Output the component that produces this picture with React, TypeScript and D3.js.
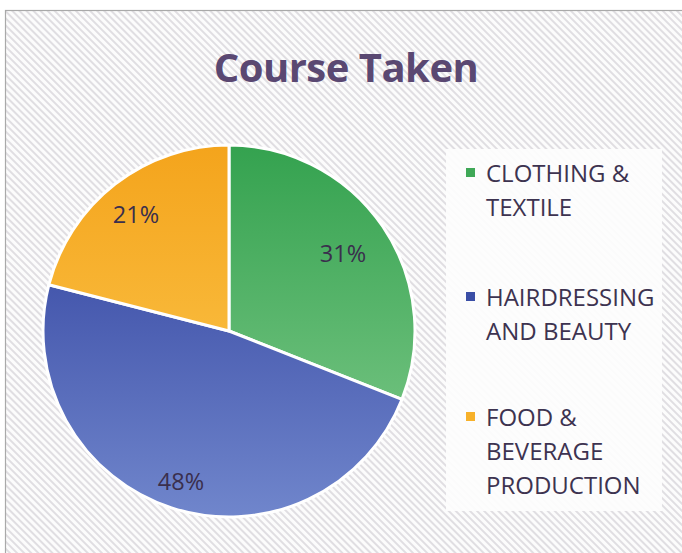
import React from "react";
import * as d3 from "d3";

const categories = ["CLOTHING & TEXTILE", "HAIRDRESSING AND BEAUTY", "FOOD & BEVERAGE PRODUCTION"];
const legendLines = [["CLOTHING &", "TEXTILE"], ["HAIRDRESSING", "AND BEAUTY"], ["FOOD &", "BEVERAGE", "PRODUCTION"]];
const values = [31, 48, 21];
const labels = ["31%", "48%", "21%"];
const colorsTop = ["#34a24f", "#2b3b9a", "#f4a41c"];
const colorsBottom = ["#84cc8e", "#7086cc", "#fdcc55"];
const legendColors = ["#3fa857", "#3a4ea6", "#f7b12a"];

export default function App() {
  const W = 682, H = 553;
  const cx = 229, cy = 331, r = 186;
  const pie = d3.pie<number>().sort(null).value((d) => d);
  const arcs = pie(values);
  const arc = d3.arc<d3.PieArcDatum<number>>().innerRadius(0).outerRadius(r);
  const labelPos = [
    [343, 253],
    [181, 481],
    [136, 214],
  ];
  const legendY = [172, 296, 416];
  const lineH = 34;
  const font = "'Open Sans', Lato, sans-serif";
  return (
    <svg width={W} height={H} style={{ position: "absolute", left: 0, top: 0 }}>
      <defs>
        <pattern id="hatch" width="5" height="5" patternUnits="userSpaceOnUse" patternTransform="rotate(-45)">
          <rect width="5" height="5" fill="#fcfcfc" />
          <rect width="2" height="5" fill="#e0dee2" />
        </pattern>
        {values.map((_, i) => (
          <linearGradient key={i} id={`g${i}`} gradientUnits="userSpaceOnUse" x1={0} y1={-r} x2={0} y2={r}>
            <stop offset="0" stopColor={colorsTop[i]} />
            <stop offset="1" stopColor={colorsBottom[i]} />
          </linearGradient>
        ))}
      </defs>
      <rect x={0} y={0} width={W} height={H} fill="#ffffff" />
      <rect x={5.5} y={10.5} width={W} height={H} fill="url(#hatch)" stroke="#a9a9a9" strokeWidth={1.2} />
      <text x={346} y={82} textAnchor="middle" fontFamily={font} fontWeight="bold" fontSize={40} fill="#5a4872" letterSpacing={-0.5}>
        Course Taken
      </text>
      <g transform={`translate(${cx},${cy})`}>
        {arcs.map((a, i) => (
          <path key={i} d={arc(a) || ""} fill={`url(#g${i})`} stroke="#ffffff" strokeWidth={3} strokeLinejoin="round" />
        ))}
      </g>
      {labels.map((l, i) => (
        <text key={i} x={labelPos[i][0]} y={labelPos[i][1]} textAnchor="middle" dominantBaseline="central" fontFamily={font} fontSize={23.5} fill="#3a2f4d">
          {l}
        </text>
      ))}
      <rect x={446} y={149} width={216} height={362} fill="#fdfdfd" opacity={0.92} />
      {categories.map((c, i) => (
        <g key={c}>
          <rect x={466} y={legendY[i] - 4} width={9} height={9} fill={legendColors[i]} />
          {legendLines[i].map((t, j) => (
            <text key={j} x={486} y={legendY[i] + j * lineH} dominantBaseline="central" fontFamily={font} fontSize={24} fill="#3d3350">
              {t}
            </text>
          ))}
        </g>
      ))}
    </svg>
  );
}
